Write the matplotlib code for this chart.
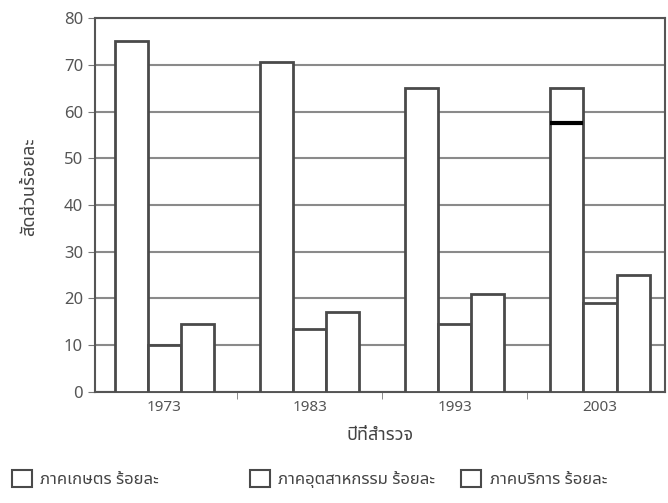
import numpy as np
import matplotlib.pyplot as plt
from matplotlib.patches import Patch

years = ['1973', '1983', '1993', '2003']
agri = [75, 70.5, 65, 65]
agri_mark = [None, None, None, 57.5]
industry = [10, 13.5, 14.5, 19]
service = [14.5, 17, 21, 25]
legend_labels = ['ภาคเกษตร ร้อยละ', 'ภาคอุตสาหกรรม ร้อยละ', 'ภาคบริการ ร้อยละ']

plt.rcParams['font.family'] = ['Noto Sans Thai', 'Noto Sans', 'DejaVu Sans']

fig = plt.figure(figsize=(6.68, 5.03), dpi=100)
ax = fig.add_axes([0.142, 0.221, 0.854, 0.743])

x = np.arange(len(years))
w = 0.228
edge = '#4a4a4a'
for vals, off in [(agri, -w), (industry, 0), (service, w)]:
    ax.bar(x + off, vals, w, color='white', edgecolor=edge, linewidth=2, zorder=3)
for i, m in enumerate(agri_mark):
    if m is not None:
        ax.hlines(m, x[i] - w * 1.5, x[i] - w * 0.5, color='black', linewidth=3, zorder=4)

ax.set_ylim(0, 80)
ax.set_xlim(-0.48, 3.45)
ax.set_yticks(range(0, 81, 10))
ax.yaxis.grid(True, color='#8a8a8a', linewidth=1.5)
ax.set_axisbelow(True)
ax.set_xticks(x)
ax.set_xticklabels(years)
ax.set_xticks(x[:-1] + 0.5, minor=True)
ax.tick_params(axis='x', which='major', length=0, labelsize=11, colors='#555555', pad=6)
ax.tick_params(axis='x', which='minor', length=5, color='#777777')
ax.tick_params(axis='y', labelsize=12, colors='#555555', length=5, color='#777777')
for s in ax.spines.values():
    s.set_color('#555555')
    s.set_linewidth(1.5)

ax.set_xlabel('ปีที่สำรวจ', fontsize=13, color='#444444', labelpad=8)
ax.set_ylabel('สัดส่วนร้อยละ', fontsize=13, color='#444444', labelpad=10)
ax.yaxis.set_label_coords(-0.10, 0.55)

# three legend entries spread along the bottom
for lab, xpos in zip(legend_labels, [-0.005, 0.352, 0.668]):
    h = Patch(facecolor='white', edgecolor=edge, linewidth=1.5)
    fig.legend([h], [lab], loc='lower left', bbox_to_anchor=(xpos, 0.0),
               frameon=False, fontsize=12, handlelength=1.2, handleheight=1.2,
               handletextpad=0.5, labelcolor='#444444')

fig.savefig('out.png', dpi=100)
